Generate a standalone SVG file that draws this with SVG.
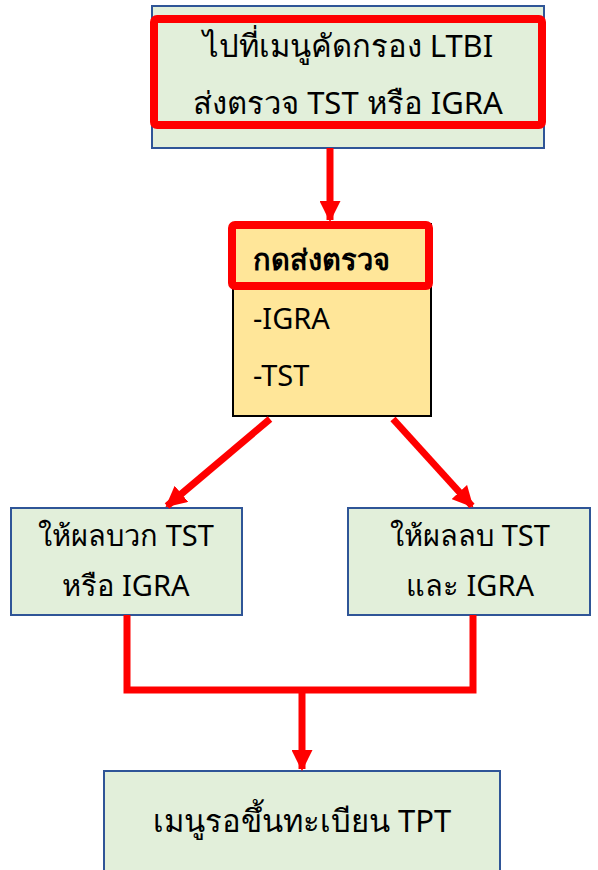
<svg xmlns="http://www.w3.org/2000/svg" width="598" height="870" viewBox="0 0 598 870">
<defs>
<style>
.t{font-family:"Noto Sans","DejaVu Sans",sans-serif;font-size:29px;fill:#000;}
.big{font-size:31px;}
.g{fill:#E2EFDA;stroke:#2F5597;stroke-width:2;}
.y{fill:#FFE699;stroke:#000;stroke-width:2;}
.hl{fill:none;stroke:#FF0000;stroke-width:8;stroke-linejoin:round;}
.c{fill:none;stroke:#FF0000;stroke-width:7;}
</style>
<marker id="ah" viewBox="0 0 10 10" refX="9" refY="5" markerWidth="3" markerHeight="3" orient="auto" markerUnits="strokeWidth">
<path d="M0,0 L10,5 L0,10 z" fill="#FF0000"/>
</marker>
</defs>
<rect width="598" height="870" fill="#fff"/>
<g id="n1">
<rect class="g" x="152" y="6" width="392" height="142"/>
<rect class="hl" x="154" y="19" width="388" height="106" rx="3"/>
<text class="t big" x="348" y="57" text-anchor="middle">ไปที่เมนูคัดกรอง LTBI</text>
<text class="t big" x="348" y="114" text-anchor="middle">ส่งตรวจ TST หรือ IGRA</text>
</g>
<g id="n2">
<rect class="y" x="233" y="224" width="198" height="192"/>
<rect class="hl" x="232" y="225" width="197" height="61" rx="3"/>
<text class="t" x="253" y="270" font-weight="bold" font-size="30">กดส่งตรวจ</text>
<text class="t" x="253" y="329" font-size="30">-IGRA</text>
<text class="t" x="253" y="386" font-size="30">-TST</text>
</g>
<g id="n3">
<rect class="g" x="11" y="508" width="231" height="107"/>
<text class="t" x="126" y="546" text-anchor="middle">ให้ผลบวก TST</text>
<text class="t" x="126" y="596" text-anchor="middle">หรือ IGRA</text>
</g>
<g id="n4">
<rect class="g" x="348" y="508" width="242" height="107"/>
<text class="t" x="470" y="546" text-anchor="middle">ให้ผลลบ TST</text>
<text class="t" x="470" y="596" text-anchor="middle">และ IGRA</text>
</g>
<g id="n5">
<rect class="g" x="104" y="771" width="396" height="110"/>
<text class="t big" x="302" y="832" text-anchor="middle">เมนูรอขึ้นทะเบียน TPT</text>
</g>
<g id="connectors">
<line class="c" x1="330" y1="148" x2="330" y2="220" marker-end="url(#ah)"/>
<line class="c" x1="270" y1="419" x2="167" y2="506" marker-end="url(#ah)"/>
<line class="c" x1="393" y1="419" x2="472" y2="506" marker-end="url(#ah)"/>
<polyline class="c" points="127,615 127,690 473,690 473,615"/>
<line class="c" x1="302" y1="690" x2="302" y2="769" marker-end="url(#ah)"/>
</g>
</svg>
